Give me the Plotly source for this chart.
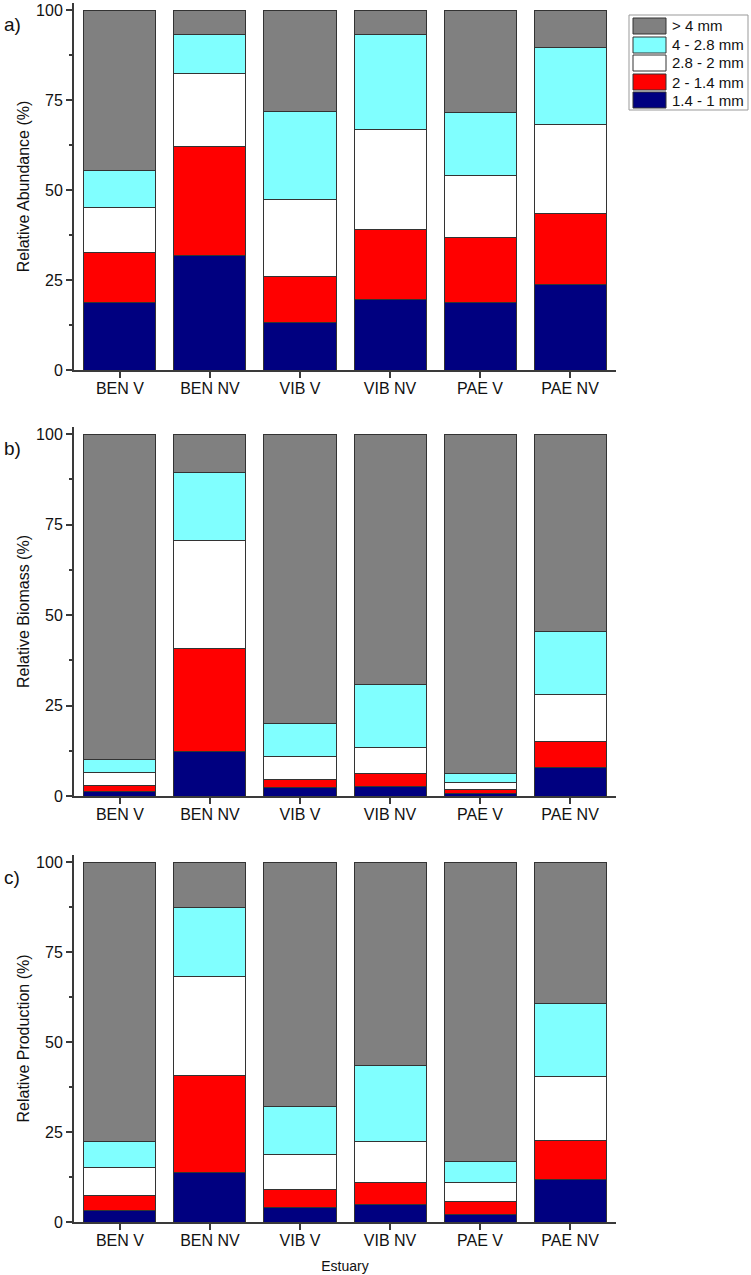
import plotly.graph_objects as go
from plotly.subplots import make_subplots

sites = ["BEN V", "BEN NV", "VIB V", "VIB NV", "PAE V", "PAE NV"]
size_classes = ["1.4 - 1 mm", "2 - 1.4 mm", "2.8 - 2 mm", "4 - 2.8 mm", "> 4 mm"]
class_colors = ["#000080", "#FF0000", "#FFFFFF", "#80FFFF", "#808080"]

# relative abundance (%) per size class, one value per site
abund_1_4 = [18.8, 31.7, 13.1, 19.5, 18.7, 23.9]
abund_2 = [13.9, 30.4, 12.8, 19.5, 18.0, 19.7]
abund_2_8 = [12.5, 20.3, 21.4, 27.8, 17.3, 24.6]
abund_4 = [10.3, 10.8, 24.6, 26.4, 17.7, 21.5]
abund_gt4 = [44.5, 6.8, 28.1, 6.8, 28.3, 10.3]

# relative biomass (%)
bio_1_4 = [1.2, 12.2, 2.3, 2.6, 0.7, 7.9]
bio_2 = [1.6, 28.6, 2.4, 3.5, 1.2, 7.1]
bio_2_8 = [3.7, 29.8, 6.1, 7.4, 1.9, 13.1]
bio_4 = [3.7, 18.7, 9.2, 17.4, 2.5, 17.3]
bio_gt4 = [89.8, 10.7, 80.0, 69.1, 93.7, 54.6]

# relative production (%)
prod_1_4 = [3.2, 13.8, 3.9, 4.8, 2.2, 11.9]
prod_2 = [4.1, 26.9, 5.0, 6.1, 3.5, 10.7]
prod_2_8 = [7.8, 27.6, 9.8, 11.4, 5.2, 17.9]
prod_4 = [7.2, 19.2, 13.4, 21.1, 5.8, 20.2]
prod_gt4 = [77.7, 12.5, 67.9, 56.6, 83.3, 39.3]

panels = [
    ("a)", "Relative Abundance (%)", [abund_1_4, abund_2, abund_2_8, abund_4, abund_gt4]),
    ("b)", "Relative Biomass (%)", [bio_1_4, bio_2, bio_2_8, bio_4, bio_gt4]),
    ("c)", "Relative Production (%)", [prod_1_4, prod_2, prod_2_8, prod_4, prod_gt4]),
]

W, H = 751, 1275
ML, MR, MT, MB = 74, 135, 3, 53
plot_w = W - ML - MR
plot_h = H - MT - MB


def px_x(px):
    return (px - ML) / plot_w


def px_y(py):
    return (H - MB - py) / plot_h


FONT = "Arial, Liberation Sans, sans-serif"
AXCOL = "#3a3a3a"

fig = make_subplots(rows=3, cols=1)

for r, (label, title, series) in enumerate(panels, start=1):
    for name, color, vals in zip(size_classes, class_colors, series):
        fig.add_trace(go.Bar(
            x=sites,
            y=vals,
            name=name,
            marker=dict(color=color, line=dict(color="#333333", width=1)),
            showlegend=False,
        ), row=r, col=1)

# panel domains in pixels (top, bottom)
domains = [(3, 370), (427, 796), (855, 1222)]

for i, (top, bot) in enumerate(domains):
    sfx = "" if i == 0 else str(i + 1)
    fig.layout["yaxis" + sfx].update(
        domain=[px_y(bot), px_y(top)],
        range=[0, 102],
        tickvals=[0, 25, 50, 75, 100],
        ticks="outside",
        ticklen=6,
        tickwidth=1.5,
        tickcolor=AXCOL,
        minor=dict(ticks="outside", dtick=12.5, tick0=0, ticklen=3, tickcolor=AXCOL, tickwidth=1.5),
        showline=True,
        linecolor=AXCOL,
        linewidth=2,
        showgrid=False,
        zeroline=False,
        automargin=False,
        tickfont=dict(family=FONT, size=16, color="#111"),
        title=dict(text=panels[i][1], font=dict(family=FONT, size=16, color="#111"), standoff=2),
    )
    fig.layout["xaxis" + sfx].update(
        domain=[0, 1],
        range=[-0.51, 5.51],
        ticks="outside",
        ticklen=6,
        tickwidth=1.5,
        tickcolor=AXCOL,
        ticklabelstandoff=-3,
        showline=True,
        linecolor=AXCOL,
        linewidth=2,
        showgrid=False,
        zeroline=False,
        automargin=False,
        tickfont=dict(family=FONT, size=16, color="#111"),
    )
    fig.add_annotation(
        x=px_x(2), y=px_y(top + 22), xref="paper", yref="paper",
        text=panels[i][0], showarrow=False, xanchor="left", yanchor="middle",
        font=dict(family=FONT, size=19, color="#111"),
    )

fig.layout.xaxis3.title = dict(text="Estuary", font=dict(family=FONT, size=14, color="#111"), standoff=13)

# legend box drawn by hand to get the wide swatches of the original
fig.add_shape(type="rect", xref="paper", yref="paper",
              x0=px_x(629), x1=px_x(748), y0=px_y(110), y1=px_y(15),
              line=dict(color="#999999", width=1), fillcolor="white")
row_centers = [26, 45, 63, 82, 100]
for yc, name, color in zip(row_centers, size_classes[::-1], class_colors[::-1]):
    fig.add_shape(type="rect", xref="paper", yref="paper",
                  x0=px_x(633), x1=px_x(666), y0=px_y(yc + 8), y1=px_y(yc - 8),
                  line=dict(color="#333333", width=1), fillcolor=color)
    fig.add_annotation(x=px_x(670), y=px_y(yc), xref="paper", yref="paper",
                       text=name, showarrow=False, xanchor="left", yanchor="middle",
                       font=dict(family=FONT, size=15, color="#111"))

fig.update_layout(
    barmode="stack",
    bargap=0.2,
    width=W,
    height=H,
    margin=dict(l=ML, r=MR, t=MT, b=MB, autoexpand=False),
    paper_bgcolor="white",
    plot_bgcolor="white",
    showlegend=False,
)

# the page body has a default 8px margin; drop it so the figure fills the window
fig.write_html("out.html", config={"displayModeBar": False},
               post_script="document.body.style.margin='0';")
